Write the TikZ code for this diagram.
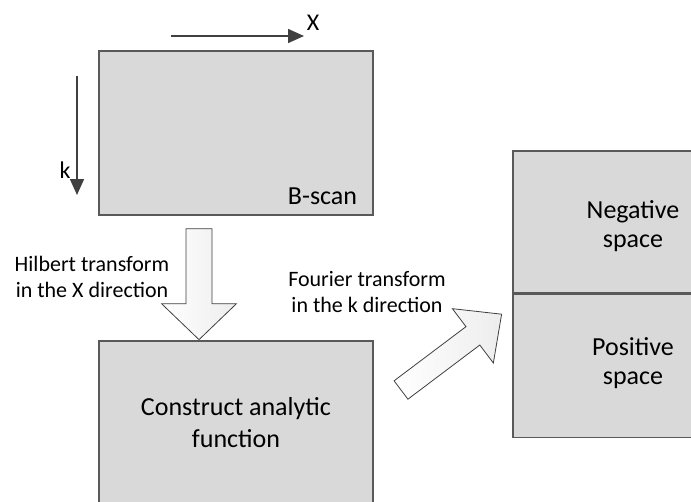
\documentclass[tikz,border=0pt]{standalone}
\usepackage{fontspec}
\setmainfont{Carlito}
\usetikzlibrary{arrows.meta,positioning}
\definecolor{BoxFill}{HTML}{D9D9D9}
\definecolor{BoxLine}{HTML}{595959}
\definecolor{AxisLine}{HTML}{404040}
% block arrow along +x: length, shaft width, head width, head length
\newcommand{\blockarrow}[4]{%
  \draw[blockstyle] (0,-#2/2) -- ({#1-#4},-#2/2) -- ({#1-#4},-#3/2) -- (#1,0)
    -- ({#1-#4},#3/2) -- ({#1-#4},#2/2) -- (0,#2/2) -- cycle;}

\begin{document}
\begin{tikzpicture}[x=1pt,y=-1pt,
    panel/.style={draw=BoxLine,line width=1.3pt,fill=BoxFill,inner sep=0pt},
    axis/.style={draw=AxisLine,line width=1.6pt,-{Triangle[length=16pt,width=14pt]}},
    blockstyle/.style={draw=AxisLine,line width=0.8pt,left color=white,right color=gray!14},
    bigtext/.style={font=\fontsize{26}{32}\selectfont,align=center},
    sidetext/.style={font=\fontsize{26}{28.5}\selectfont,align=center},
    smalltext/.style={font=\fontsize{22}{26}\selectfont,align=center}]
  \useasboundingbox (0,0) rectangle (691,501);

  % boxes
  \node[panel,minimum width=274,minimum height=164] (bscan) at (236,133) {};
  \node[panel,bigtext,minimum width=274,minimum height=164] (construct) at (236,423)
     {Construct analytic\\function};
  \node[panel,minimum width=240,minimum height=142] (neg) at (633,222) {};
  \node[panel,minimum width=240,minimum height=143,below=0pt of neg] (pos) {};
  \node[sidetext] (negtxt) at ([yshift=-4pt]neg.center) {Negative\\space};
  \node[sidetext] (postxt) at ([yshift=2.5pt]pos.center) {Positive\\space};
  \node[font=\fontsize{26}{30}\selectfont] (bscanlbl) at (322.5,196.6) {B-scan};

  % axes of the B-scan
  \coordinate (xstart) at (171,36);
  \coordinate (xend) at (304,36);
  \draw[axis] (xstart) -- (xend);
  \node[font=\fontsize{24}{28}\selectfont] (xlbl) at (313,22.5) {X};
  \coordinate (kstart) at (77,76);
  \coordinate (kend) at (77,195);
  \draw[axis] (kstart) -- (kend);
  \node[font=\fontsize{24}{28}\selectfont] (klbl) at (65,170) {k};

  % transforms
  \coordinate (hilTail) at ([xshift=-37pt,yshift=-13pt]bscan.south);
  \begin{scope}[shift={(hilTail)},rotate=-90]
    \blockarrow{111}{26}{75}{36}
  \end{scope}
  \node[smalltext] (hiltxt) at (92,277) {Hilbert transform\\in the X direction};

  \coordinate (fouTail) at (401,390);
  \begin{scope}[shift={(fouTail)},rotate=37]
    \blockarrow{126}{23}{68}{36}
  \end{scope}
  \node[smalltext] (foutxt) at (367,292.5) {Fourier transform\\in the k direction};
\end{tikzpicture}
\end{document}
